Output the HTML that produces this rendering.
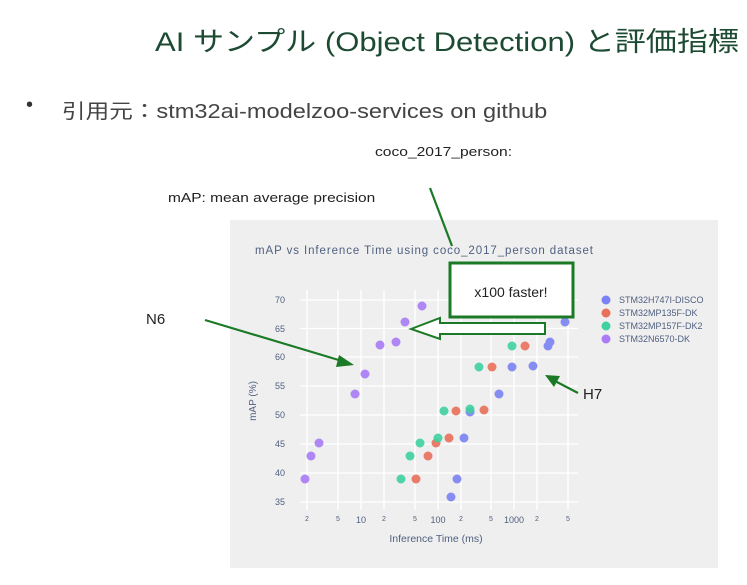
<!DOCTYPE html>
<html><head><meta charset="utf-8"><style>
body{margin:0;width:747px;height:585px;background:#fff;position:relative;overflow:hidden;font-family:"Liberation Sans","Noto Sans CJK JP",sans-serif}
.t{position:absolute;white-space:nowrap;transform-origin:0 0;z-index:2}
</style></head><body>
<div class="t" style="left:155px;top:20px;font-size:27px;color:#1d4a33;transform:scaleX(1.15)">AI サンプル (Object Detection) と評価指標</div>
<div class="t" style="left:26px;top:94px;font-size:20px;color:#333">•</div>
<div class="t" style="left:62px;top:95px;font-size:20px;color:#444;transform:scaleX(1.18)">引用元：stm32ai-modelzoo-services on github</div>
<div class="t" style="left:375px;top:144px;font-size:13px;color:#222;transform:scaleX(1.2)">coco_2017_person:</div>
<div class="t" style="left:168px;top:190px;font-size:13px;color:#222;transform:scaleX(1.19)">mAP: mean average precision</div>
<div class="t" style="left:146px;top:311px;font-size:15px;color:#222">N6</div>
<div class="t" style="left:583px;top:386px;font-size:15px;color:#222">H7</div>
<svg width="747" height="585" style="position:absolute;left:0;top:0;z-index:1">
<rect x="230" y="220" width="488" height="348" fill="#efefef"/>
<text x="255" y="254" font-size="11.5" fill="#506080" font-family="Liberation Sans" textLength="338">mAP vs Inference Time using coco_2017_person dataset</text>
<g stroke="#fff" stroke-width="1.3">
<line x1="300" x2="578" y1="300" y2="300"/><line x1="300" x2="578" y1="328.5" y2="328.5"/><line x1="300" x2="578" y1="357" y2="357"/><line x1="300" x2="578" y1="386" y2="386"/><line x1="300" x2="578" y1="415" y2="415"/><line x1="300" x2="578" y1="444" y2="444"/><line x1="300" x2="578" y1="473" y2="473"/><line x1="300" x2="578" y1="502" y2="502"/>
<line x1="307" x2="307" y1="290" y2="510"/><line x1="338" x2="338" y1="290" y2="510"/><line x1="361" x2="361" y1="290" y2="510"/><line x1="384" x2="384" y1="290" y2="510"/><line x1="415" x2="415" y1="290" y2="510"/><line x1="438" x2="438" y1="290" y2="510"/><line x1="461" x2="461" y1="290" y2="510"/><line x1="491" x2="491" y1="290" y2="510"/><line x1="514" x2="514" y1="290" y2="510"/><line x1="537" x2="537" y1="290" y2="510"/><line x1="568" x2="568" y1="290" y2="510"/>
</g>
<g font-size="9" fill="#506080" font-family="Liberation Sans" text-anchor="end">
<text x="285" y="303">70</text><text x="285" y="332">65</text><text x="285" y="360">60</text><text x="285" y="389">55</text><text x="285" y="418">50</text><text x="285" y="447">45</text><text x="285" y="476">40</text><text x="285" y="505">35</text>
</g>
<g font-size="9" fill="#506080" font-family="Liberation Sans" text-anchor="middle">
<text x="307" y="521" font-size="7">2</text><text x="338" y="521" font-size="7">5</text><text x="361" y="523">10</text><text x="384" y="521" font-size="7">2</text><text x="415" y="521" font-size="7">5</text><text x="438" y="523">100</text><text x="461" y="521" font-size="7">2</text><text x="491" y="521" font-size="7">5</text><text x="514" y="523">1000</text><text x="537" y="521" font-size="7">2</text><text x="568" y="521" font-size="7">5</text>
<text x="436" y="542" font-size="10.5">Inference Time (ms)</text>
<text transform="translate(256,401) rotate(-90)" font-size="10">mAP (%)</text>
</g>
<g fill="#a97cf6" opacity="0.9"><circle cx="305" cy="479" r="4.5"/><circle cx="311" cy="456" r="4.5"/><circle cx="319" cy="443" r="4.5"/><circle cx="355" cy="394" r="4.5"/><circle cx="365" cy="374" r="4.5"/><circle cx="380" cy="345" r="4.5"/><circle cx="396" cy="342" r="4.5"/><circle cx="405" cy="322" r="4.5"/><circle cx="422" cy="306" r="4.5"/></g>
<g fill="#e9705a" opacity="0.9"><circle cx="416" cy="479" r="4.5"/><circle cx="428" cy="456" r="4.5"/><circle cx="436" cy="443" r="4.5"/><circle cx="449" cy="438" r="4.5"/><circle cx="456" cy="411" r="4.5"/><circle cx="484" cy="410" r="4.5"/><circle cx="492" cy="367" r="4.5"/><circle cx="525" cy="346" r="4.5"/></g>
<g fill="#7b83f3" opacity="0.9"><circle cx="451" cy="497" r="4.5"/><circle cx="457" cy="479" r="4.5"/><circle cx="464" cy="438" r="4.5"/><circle cx="470" cy="412" r="4.5"/><circle cx="499" cy="394" r="4.5"/><circle cx="512" cy="367" r="4.5"/><circle cx="533" cy="366" r="4.5"/><circle cx="548" cy="346" r="4.5"/><circle cx="550" cy="342" r="4.5"/><circle cx="565" cy="322" r="4.5"/></g>
<g fill="#3fd2a0" opacity="0.9"><circle cx="401" cy="479" r="4.5"/><circle cx="410" cy="456" r="4.5"/><circle cx="420" cy="443" r="4.5"/><circle cx="438" cy="438" r="4.5"/><circle cx="444" cy="411" r="4.5"/><circle cx="470" cy="409" r="4.5"/><circle cx="479" cy="367" r="4.5"/><circle cx="512" cy="346" r="4.5"/></g>
<g font-size="9" fill="#506080" font-family="Liberation Sans">
<circle cx="606" cy="300" r="4.5" fill="#7b83f3"/><text x="619" y="303">STM32H747I-DISCO</text>
<circle cx="606" cy="313" r="4.5" fill="#e9705a"/><text x="619" y="316">STM32MP135F-DK</text>
<circle cx="606" cy="326" r="4.5" fill="#3fd2a0"/><text x="619" y="329">STM32MP157F-DK2</text>
<circle cx="606" cy="339" r="4.5" fill="#a97cf6"/><text x="619" y="342">STM32N6570-DK</text>
</g>
<g stroke="#1b7a25" fill="#1b7a25" stroke-width="2.2">
<line x1="430" y1="188" x2="452" y2="246"/>
<line x1="205" y1="320" x2="342" y2="361"/><polygon points="354,365 339,355 336,367" stroke="none"/>
<line x1="578" y1="393" x2="555" y2="381"/><polygon points="545,375 560,376 554,387" stroke="none"/>
</g>
<polygon points="411,329 440,318 440,323 545,323 545,334 440,334 440,339" fill="#fff" stroke="#1b7a25" stroke-width="2"/>
<rect x="450" y="263" width="123" height="54" fill="#fff" stroke="#1b7a25" stroke-width="3"/>
<text x="511" y="297" font-size="14" text-anchor="middle" fill="#222" font-family="Liberation Sans">x100 faster!</text>
</svg>
</body></html>
